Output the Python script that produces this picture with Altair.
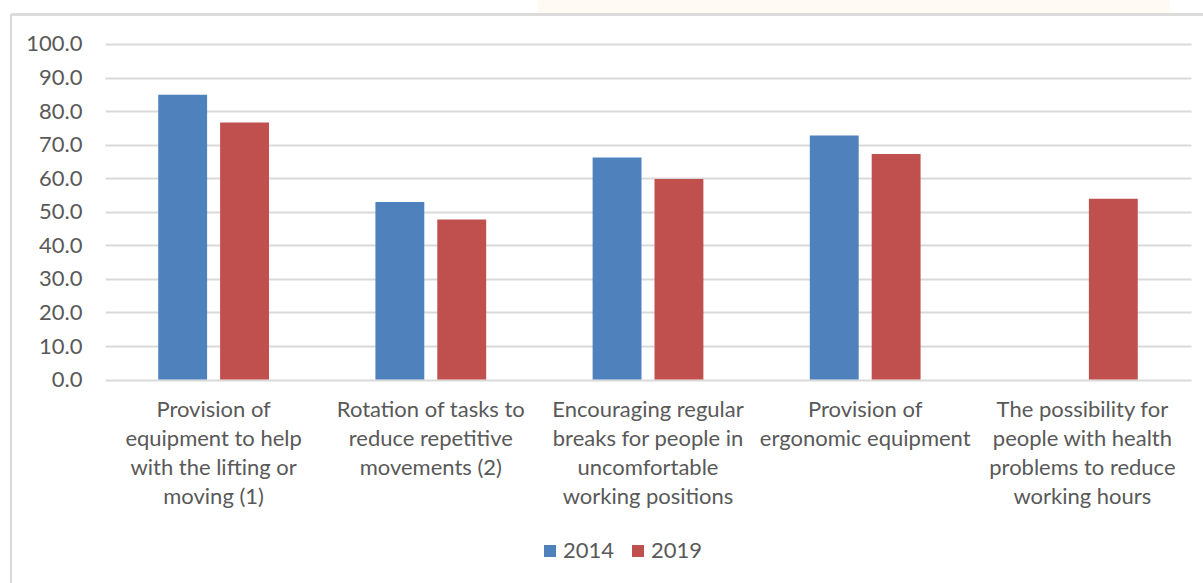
import altair as alt
import pandas as pd

# Measures taken to reduce physical risk factors (% of establishments)
categories = [
    "Provision of\nequipment to help\nwith the lifting or\nmoving (1)",
    "Rotation of tasks to\nreduce repetitive\nmovements (2)",
    "Encouraging regular\nbreaks for people in\nuncomfortable\nworking positions",
    "Provision of\nergonomic equipment",
    "The possibility for\npeople with health\nproblems to reduce\nworking hours",
]
values_2014 = [84.9, 52.9, 66.2, 72.7, None]
values_2019 = [76.6, 47.7, 59.8, 67.2, 53.9]
years = ["2014", "2019"]
colors = ["#4F81BD", "#C0504D"]
y_ticks = [0, 10, 20, 30, 40, 50, 60, 70, 80, 90, 100]

rows = []
for cat, v14, v19 in zip(categories, values_2014, values_2019):
    for year, v in zip(years, [v14, v19]):
        if v is not None:
            rows.append({"category": cat, "year": year, "value": v})
df = pd.DataFrame(rows)

W, H = 1086, 335.6
FONT = "Lato"
TEXT = "#595959"
GRID = "#d9d9d9"

bars = alt.Chart(df).mark_bar().encode(
    x=alt.X(
        "category:N",
        sort=categories,
        scale=alt.Scale(paddingInner=0.49, paddingOuter=0.245),
        axis=alt.Axis(
            title=None,
            labelAngle=0,
            labelExpr="split(datum.label, '\\n')",
            labelFont=FONT,
            labelFontSize=22,
            labelColor=TEXT,
            labelLineHeight=29,
            labelBaseline="top",
            labelPadding=20,
            labelLimit=300,
            domain=False,
            ticks=False,
            grid=False,
        ),
    ),
    xOffset=alt.XOffset(
        "year:N",
        sort=years,
        scale=alt.Scale(paddingInner=0.21, paddingOuter=0),
    ),
    y=alt.Y(
        "value:Q",
        scale=alt.Scale(domain=[0, 100], nice=False),
        axis=alt.Axis(
            title=None,
            values=y_ticks,
            format=".1f",
            labelFont=FONT,
            labelFontSize=22,
            labelColor=TEXT,
            labelPadding=23,
            domain=False,
            ticks=False,
            grid=True,
            gridColor=GRID,
            gridWidth=1.8,
        ),
    ),
    color=alt.Color(
        "year:N",
        sort=years,
        scale=alt.Scale(domain=years, range=colors),
        legend=alt.Legend(
            title=None,
            orient="none",
            direction="horizontal",
            legendX=434,
            legendY=496,
            symbolType="square",
            symbolSize=144,
            symbolStrokeWidth=0,
            labelFont=FONT,
            labelFontSize=22,
            labelColor=TEXT,
            labelOffset=2,
            columnPadding=12,
        ),
    ),
)

# chart frame (outer border) and faint strip at the top edge
frame_left = alt.Chart(df).mark_rule(color=GRID, strokeWidth=1.6, clip=False).encode(
    x=alt.value(-94), y=alt.value(-29.5), y2=alt.value(560)
)
frame_top = alt.Chart(df).mark_rule(color=GRID, strokeWidth=1.6, clip=False).encode(
    x=alt.value(-94), x2=alt.value(1110), y=alt.value(-29.5)
)
strip = alt.Chart(df).mark_rect(color="#FFFAF3", clip=False).encode(
    x=alt.value(433), x2=alt.value(1065), y=alt.value(-44), y2=alt.value(-30.5)
)

chart = (
    alt.layer(strip, frame_left, frame_top, bars)
    .properties(
        width=W,
        height=H,
        autosize=alt.AutoSizeParams(type="none"),
        padding={"left": 105, "top": 44, "right": 12, "bottom": 203},
        background="white",
    )
    .configure_view(stroke=None)
)

chart.save("out.html", embed_options={"renderer": "svg", "actions": False})
